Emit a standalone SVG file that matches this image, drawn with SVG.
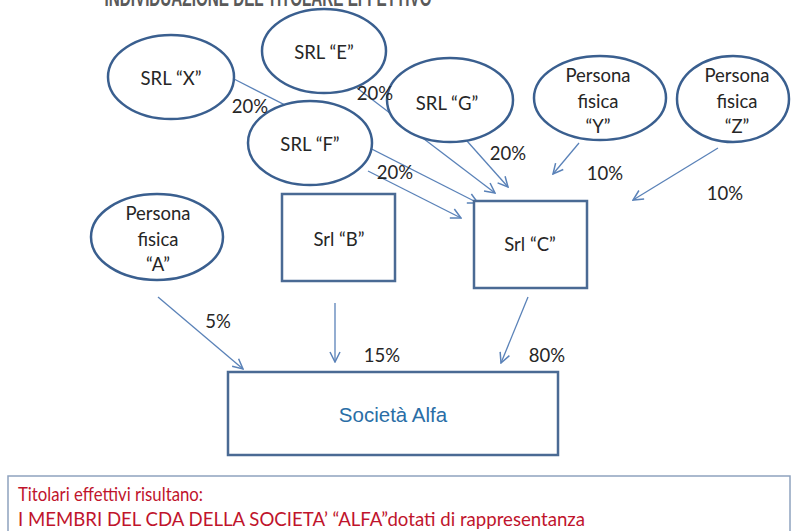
<svg xmlns="http://www.w3.org/2000/svg" width="791" height="531" viewBox="0 0 791 531">
<defs>
<style>
.ell{fill:#ffffff;stroke:#3a5f8f;stroke-width:2.5}
.box{fill:#ffffff;stroke:#4a6a94;stroke-width:2.5}
.t{font-family:Lato,"Open Sans","Liberation Sans",sans-serif;font-size:18.5px;fill:#262626;text-anchor:middle}
.lbl{font-family:Lato,"Open Sans","Liberation Sans",sans-serif;font-size:18.5px;fill:#262626;text-anchor:middle}
.con line{stroke:#5a82b8;stroke-width:1.3;fill:none;marker-end:url(#arr)}
.red{font-family:Lato,"Open Sans","Liberation Sans",sans-serif;font-size:19px;fill:#c0142c}
</style>
<marker id="arr" viewBox="0 0 12 12" refX="11" refY="6" markerWidth="12" markerHeight="12" markerUnits="userSpaceOnUse" orient="auto">
<path d="M1,1 L11,6 L1,11" fill="none" stroke="#5a82b8" stroke-width="1.5"/>
</marker>
</defs>
<rect x="0" y="0" width="791" height="531" fill="#ffffff"/>
<text x="268" y="6" font-family="Liberation Sans,sans-serif" font-size="24" font-weight="bold" fill="#5a5a5a" text-anchor="middle" textLength="327" lengthAdjust="spacingAndGlyphs">INDIVIDUAZIONE DEL TITOLARE EFFETTIVO</text>

<g id="connectors" class="con">
<line x1="234" y1="79" x2="478" y2="203"/>
<line x1="357" y1="88" x2="495" y2="193"/>
<line x1="368" y1="171" x2="461" y2="218"/>
<line x1="467" y1="141" x2="508" y2="187"/>
<line x1="579" y1="143" x2="553" y2="174"/>
<line x1="718" y1="148" x2="633" y2="200"/>
<line x1="158" y1="297" x2="243" y2="369"/>
<line x1="335" y1="303" x2="335" y2="362"/>
<line x1="528" y1="297" x2="501" y2="363"/>
</g>

<g id="node-X"><ellipse class="ell" cx="171" cy="77" rx="63" ry="42"/><text class="t" x="171" y="84.5">SRL “X”</text></g>
<g id="node-E"><ellipse class="ell" cx="324" cy="51" rx="62" ry="42"/><text class="t" x="324" y="58.5">SRL “E”</text></g>
<g id="node-F"><ellipse class="ell" cx="310" cy="143" rx="62" ry="42"/><text class="t" x="310" y="150.5">SRL “F”</text></g>
<g id="node-G"><ellipse class="ell" cx="450" cy="100" rx="63" ry="42"/><text class="t" x="447" y="109.5">SRL “G”</text></g>
<g id="node-Y"><ellipse class="ell" cx="600" cy="98" rx="66" ry="42"/><text class="t" x="598" y="81.5">Persona</text><text class="t" x="598" y="107.5">fisica</text><text class="t" x="598" y="132.5">“Y”</text></g>
<g id="node-Z"><ellipse class="ell" cx="733" cy="99" rx="56" ry="43"/><text class="t" x="737" y="81.5">Persona</text><text class="t" x="737" y="107.5">fisica</text><text class="t" x="737" y="132.5">“Z”</text></g>
<g id="node-A"><ellipse class="ell" cx="157" cy="237" rx="66" ry="43"/><text class="t" x="158" y="219.5">Persona</text><text class="t" x="158" y="245.5">fisica</text><text class="t" x="158" y="270.5">“A”</text></g>
<g id="node-B"><rect class="box" x="282" y="194" width="113" height="87"/><text class="t" x="339" y="245.5">Srl “B”</text></g>
<g id="node-C"><rect class="box" x="474" y="201" width="113" height="87"/><text class="t" x="530" y="250.5">Srl “C”</text></g>
<g id="node-Alfa"><rect class="box" x="228" y="372" width="330" height="83"/><text x="393" y="422" font-family="Liberation Sans,Arial,sans-serif" font-size="20.5" fill="#2a6ea6" text-anchor="middle">Società Alfa</text></g>

<g id="labels">
<text class="lbl" x="250" y="112.5">20%</text>
<text class="lbl" x="375" y="99.5">20%</text>
<text class="lbl" x="395" y="178.5">20%</text>
<text class="lbl" x="508" y="159.5">20%</text>
<text class="lbl" x="605" y="179.5">10%</text>
<text class="lbl" x="725" y="199.5">10%</text>
<text class="lbl" x="218" y="327.5">5%</text>
<text class="lbl" x="382" y="361.5">15%</text>
<text class="lbl" x="547" y="361.5">80%</text>
</g>

<g id="note">
<rect x="8" y="476" width="782" height="70" fill="#ffffff" stroke="#8fa3bf" stroke-width="1.5"/>
<text class="red" x="18" y="501" textLength="185" lengthAdjust="spacingAndGlyphs">Titolari effettivi risultano:</text>
<text class="red" x="18" y="526" textLength="567" lengthAdjust="spacingAndGlyphs">I MEMBRI DEL CDA DELLA SOCIETA’ “ALFA”dotati di rappresentanza</text>
</g>
</svg>
